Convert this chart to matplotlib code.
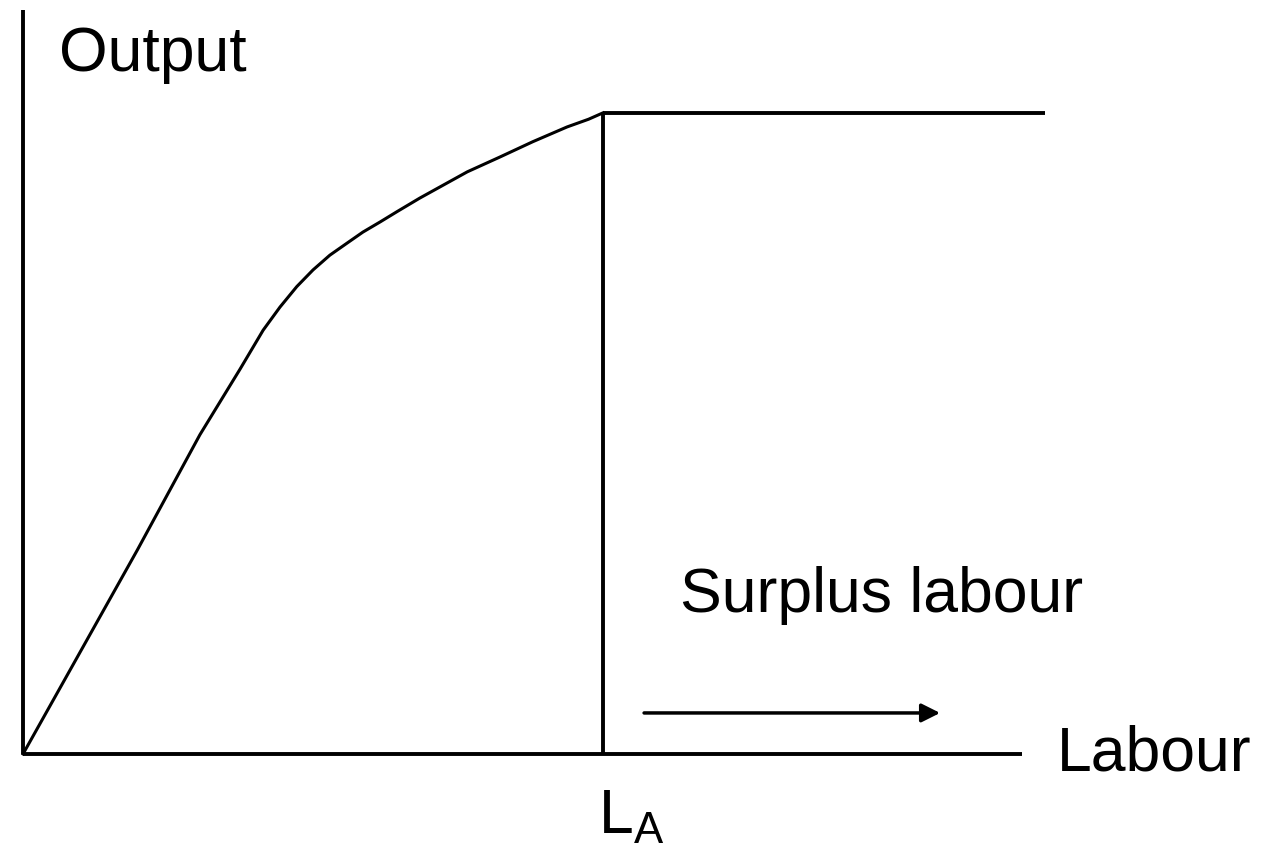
import matplotlib
matplotlib.use("Agg")
from matplotlib import pyplot as plt

plt.rcParams['font.family'] = ['Liberation Sans', 'DejaVu Sans']
plt.rcParams['mathtext.fontset'] = 'custom'
plt.rcParams['mathtext.rm'] = 'Liberation Sans'

# production curve (labour, output), L_A = 100, max output = 100
labour = [0, 19.7, 30.5, 37.4, 41.4, 44.3, 47.2, 50.0, 52.9, 55.9, 58.6, 61.6, 64.5,
          68.4, 76.6, 82.2, 87.9, 93.8, 97.5, 100]
output = [0, 31.8, 49.8, 60.0, 66.1, 69.7, 72.9, 75.5, 77.8, 79.7, 81.4, 83.0, 84.6,
          86.7, 90.8, 93.1, 95.5, 97.8, 99.0, 100]

l_a = 100
flat_end = 176.2
x_axis_end = 172.2
y_axis_top = 116.1
arrow_from, arrow_to, arrow_y = 106.6, 158.6, 6.4

fig = plt.figure(figsize=(12.88, 8.49), dpi=100)
ax = fig.add_axes([0, 0, 1, 1])
ax.set_xlim(-3.97, 218.1)
ax.set_ylim(-14.82, 117.6)
ax.axis('off')

k = dict(color='black', solid_capstyle='butt')
ax.plot([0, x_axis_end], [0, 0], lw=2.8, **k)
ax.plot([0, 0], [0, y_axis_top], lw=2.8, **k)
ax.plot(labour, output, lw=2.2, color='black', solid_joinstyle='round')
ax.plot([l_a, flat_end], [output[-1], output[-1]], lw=2.8, **k)
ax.plot([l_a, l_a], [0, output[-1]], lw=2.8, **k)

ax.annotate('', xy=(arrow_to, arrow_y), xytext=(arrow_from, arrow_y),
            arrowprops=dict(arrowstyle='-|>', mutation_scale=28, lw=2.5, color='black'))

fs = 45
ax.text(6.2, 106.6, 'Output', fontsize=fs, va='baseline')
ax.text(113.2, 22.2, 'Surplus labour', fontsize=fs, va='baseline')
ax.text(178.3, -2.5, 'Labour', fontsize=fs, va='baseline')
ax.text(99.2, -12.5, r'L$_\mathrm{A}$', fontsize=fs, va='baseline')

fig.savefig('out.png', dpi=100, facecolor='white')
